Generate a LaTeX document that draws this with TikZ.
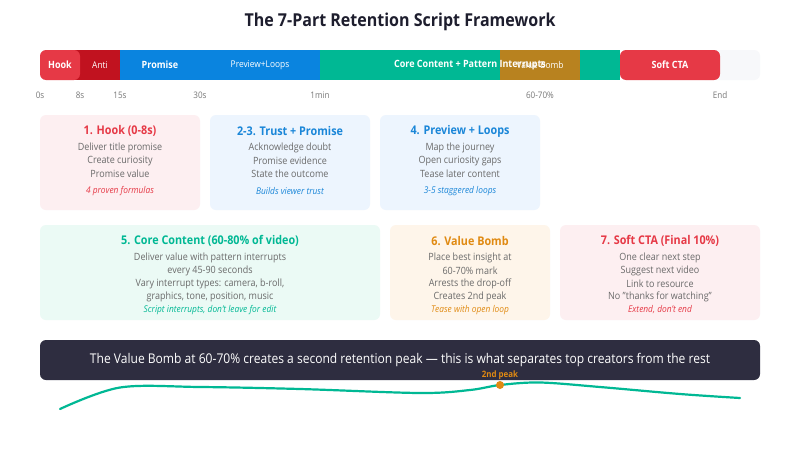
\documentclass[tikz,border=0pt]{standalone}
\usepackage{fontspec}
\setmainfont{Open Sans}[FakeStretch=0.9]
\newcommand\fsz[1]{\fontsize{#1}{#1}\selectfont}
\definecolor{cred}{HTML}{E63946}
\definecolor{cdred}{HTML}{C1121F}
\definecolor{cblue}{HTML}{0A84DF}
\definecolor{ctblue}{HTML}{1A86D8}
\definecolor{cteal}{HTML}{00B894}
\definecolor{cbrown}{HTML}{B8821F}
\definecolor{corange}{HTML}{E08A12}
\definecolor{cend}{HTML}{F7F8FA}
\definecolor{fpink}{HTML}{FDEFF1}
\definecolor{fblue}{HTML}{EDF5FE}
\definecolor{fmint}{HTML}{EBFAF5}
\definecolor{fcream}{HTML}{FEF5EA}
\definecolor{cbody}{HTML}{6A6A6A}
\definecolor{ctime}{HTML}{777777}
\definecolor{cbanner}{HTML}{2E2D40}
\definecolor{ctitle}{HTML}{1E1E2E}
\tikzset{
  barlbl/.style={text=white, font=\fsz{9.3}, inner sep=0},
  barlblb/.style={text=white, font=\fsz{10}\bfseries, inner sep=0},
  timelbl/.style={text=ctime, font=\fsz{9}, inner sep=0},
  card/.style={rounded corners=6pt, draw=none},
  ctitle/.style={font=\fsz{12}\bfseries, inner sep=0},
  cbody/.style={font=\fsz{10}, text=cbody, inner sep=0},
  cnote/.style={font=\fsz{9.3}\itshape, inner sep=0},
}
\begin{document}
\begin{tikzpicture}[x=1pt,y=-1pt]
\useasboundingbox[fill=white] (0,0) rectangle (800,450);
% title
\node[font=\fsz{17.8}\bfseries, text=ctitle, inner sep=0] (title) at (400,22) {The 7-Part Retention Script Framework};
% bar
\fill[cend, rounded corners=6pt] (700,50) rectangle (760,80);
\fill[cdred] (70,50) rectangle (120,80);
\fill[cblue] (120,50) rectangle (320,80);
\fill[cteal] (320,50) rectangle (620,80);
\fill[cbrown] (500,50) rectangle (580,80);
\fill[cred, rounded corners=6pt] (40,50) rectangle (80,80);
\fill[cred, rounded corners=6pt] (620,50) rectangle (720,80);
\node[barlblb] (bhook) at (60,65) {Hook};
\node[barlbl] (banti) at (100,65) {Anti};
\node[barlblb] (bprom) at (160,65) {Promise};
\node[barlbl] (bprev) at (260,65) {Preview+Loops};
\node[barlblb] (bcore) at (470,65) {Core Content + Pattern Interrupts};
\node[barlbl] (bvb) at (540,65) {Value Bomb};
\node[barlblb] (bcta) at (670,65) {Soft CTA};
% time labels
\node[timelbl] (t0) at (40,95) {0s};
\node[timelbl] (t8) at (80,95) {8s};
\node[timelbl] (t15) at (120,95) {15s};
\node[timelbl] (t30) at (200,95) {30s};
\node[timelbl] (t1m) at (320,95) {1min};
\node[timelbl] (t60) at (540,95) {60-70\%};
\node[timelbl] (tend) at (720,95) {End};
% row 1 cards
\fill[card, fpink] (40,115) rectangle (200,210);
\fill[card, fblue] (210,115) rectangle (370,210);
\fill[card, fblue] (380,115) rectangle (540,210);
\node[ctitle, text=cred] (h1) at (120,131) {1. Hook (0-8s)};
\node[cbody] (h1a) at (120,148) {Deliver title promise};
\node[cbody] (h1b) at (120,161) {Create curiosity};
\node[cbody] (h1c) at (120,174) {Promise value};
\node[cnote, text=cred] (h1n) at (120,191) {4 proven formulas};
\node[ctitle, text=ctblue] (h2) at (290,131) {2-3. Trust + Promise};
\node[cbody] (h2a) at (290,148) {Acknowledge doubt};
\node[cbody] (h2b) at (290,161) {Promise evidence};
\node[cbody] (h2c) at (290,174) {State the outcome};
\node[cnote, text=ctblue] (h2n) at (290,191) {Builds viewer trust};
\node[ctitle, text=ctblue] (h3) at (460,131) {4. Preview + Loops};
\node[cbody] (h3a) at (460,148) {Map the journey};
\node[cbody] (h3b) at (460,161) {Open curiosity gaps};
\node[cbody] (h3c) at (460,174) {Tease later content};
\node[cnote, text=ctblue] (h3n) at (460,191) {3-5 staggered loops};
% row 2 cards
\fill[card, fmint] (40,225) rectangle (380,320);
\fill[card, fcream] (390,225) rectangle (550,320);
\fill[card, fpink] (560,225) rectangle (760,320);
\node[ctitle, text=cteal] (h5) at (210,241) {5. Core Content (60-80\% of video)};
\node[cbody] (h5a) at (210,258) {Deliver value with pattern interrupts};
\node[cbody] (h5b) at (210,271) {every 45-90 seconds};
\node[cbody] (h5c) at (210,284) {Vary interrupt types: camera, b-roll,};
\node[cbody] (h5d) at (210,297) {graphics, tone, position, music};
\node[cnote, text=cteal] (h5n) at (210,310) {Script interrupts, don't leave for edit};
\node[ctitle, text=corange] (h6) at (470,241) {6. Value Bomb};
\node[cbody] (h6a) at (470,258) {Place best insight at};
\node[cbody] (h6b) at (470,271) {60-70\% mark};
\node[cbody] (h6c) at (470,284) {Arrests the drop-off};
\node[cbody] (h6d) at (470,297) {Creates 2nd peak};
\node[cnote, text=corange] (h6n) at (470,310) {Tease with open loop};
\node[ctitle, text=cred] (h7) at (660,241) {7. Soft CTA (Final 10\%)};
\node[cbody] (h7a) at (660,258) {One clear next step};
\node[cbody] (h7b) at (660,271) {Suggest next video};
\node[cbody] (h7c) at (660,284) {Link to resource};
\node[cbody] (h7d) at (660,297) {No "thanks for watching"};
\node[cnote, text=cred] (h7n) at (660,310) {Extend, don't end};
% banner
\fill[cbanner, rounded corners=6pt] (40,340) rectangle (760,380);
\node[text=white, font=\fsz{13.4}, inner sep=0] (banner) at (400,360) {The Value Bomb at 60-70\% creates a second retention peak — this is what separates top creators from the rest};
% retention curve
\draw[cteal, line width=2.2pt, line cap=round] plot[smooth, tension=0.55] coordinates {(60,409) (120,387.5) (200,387) (300,389) (420,393) (470,390) (500,385) (540,382.5) (600,387) (680,394) (740,398)};
\node[circle, fill=corange, minimum size=8pt, inner sep=0] (peak) at (500,385) {};
\node[font=\fsz{8.8}\bfseries, text=corange, inner sep=0] (peaklbl) at (500,375) {2nd peak};
\end{tikzpicture}
\end{document}
